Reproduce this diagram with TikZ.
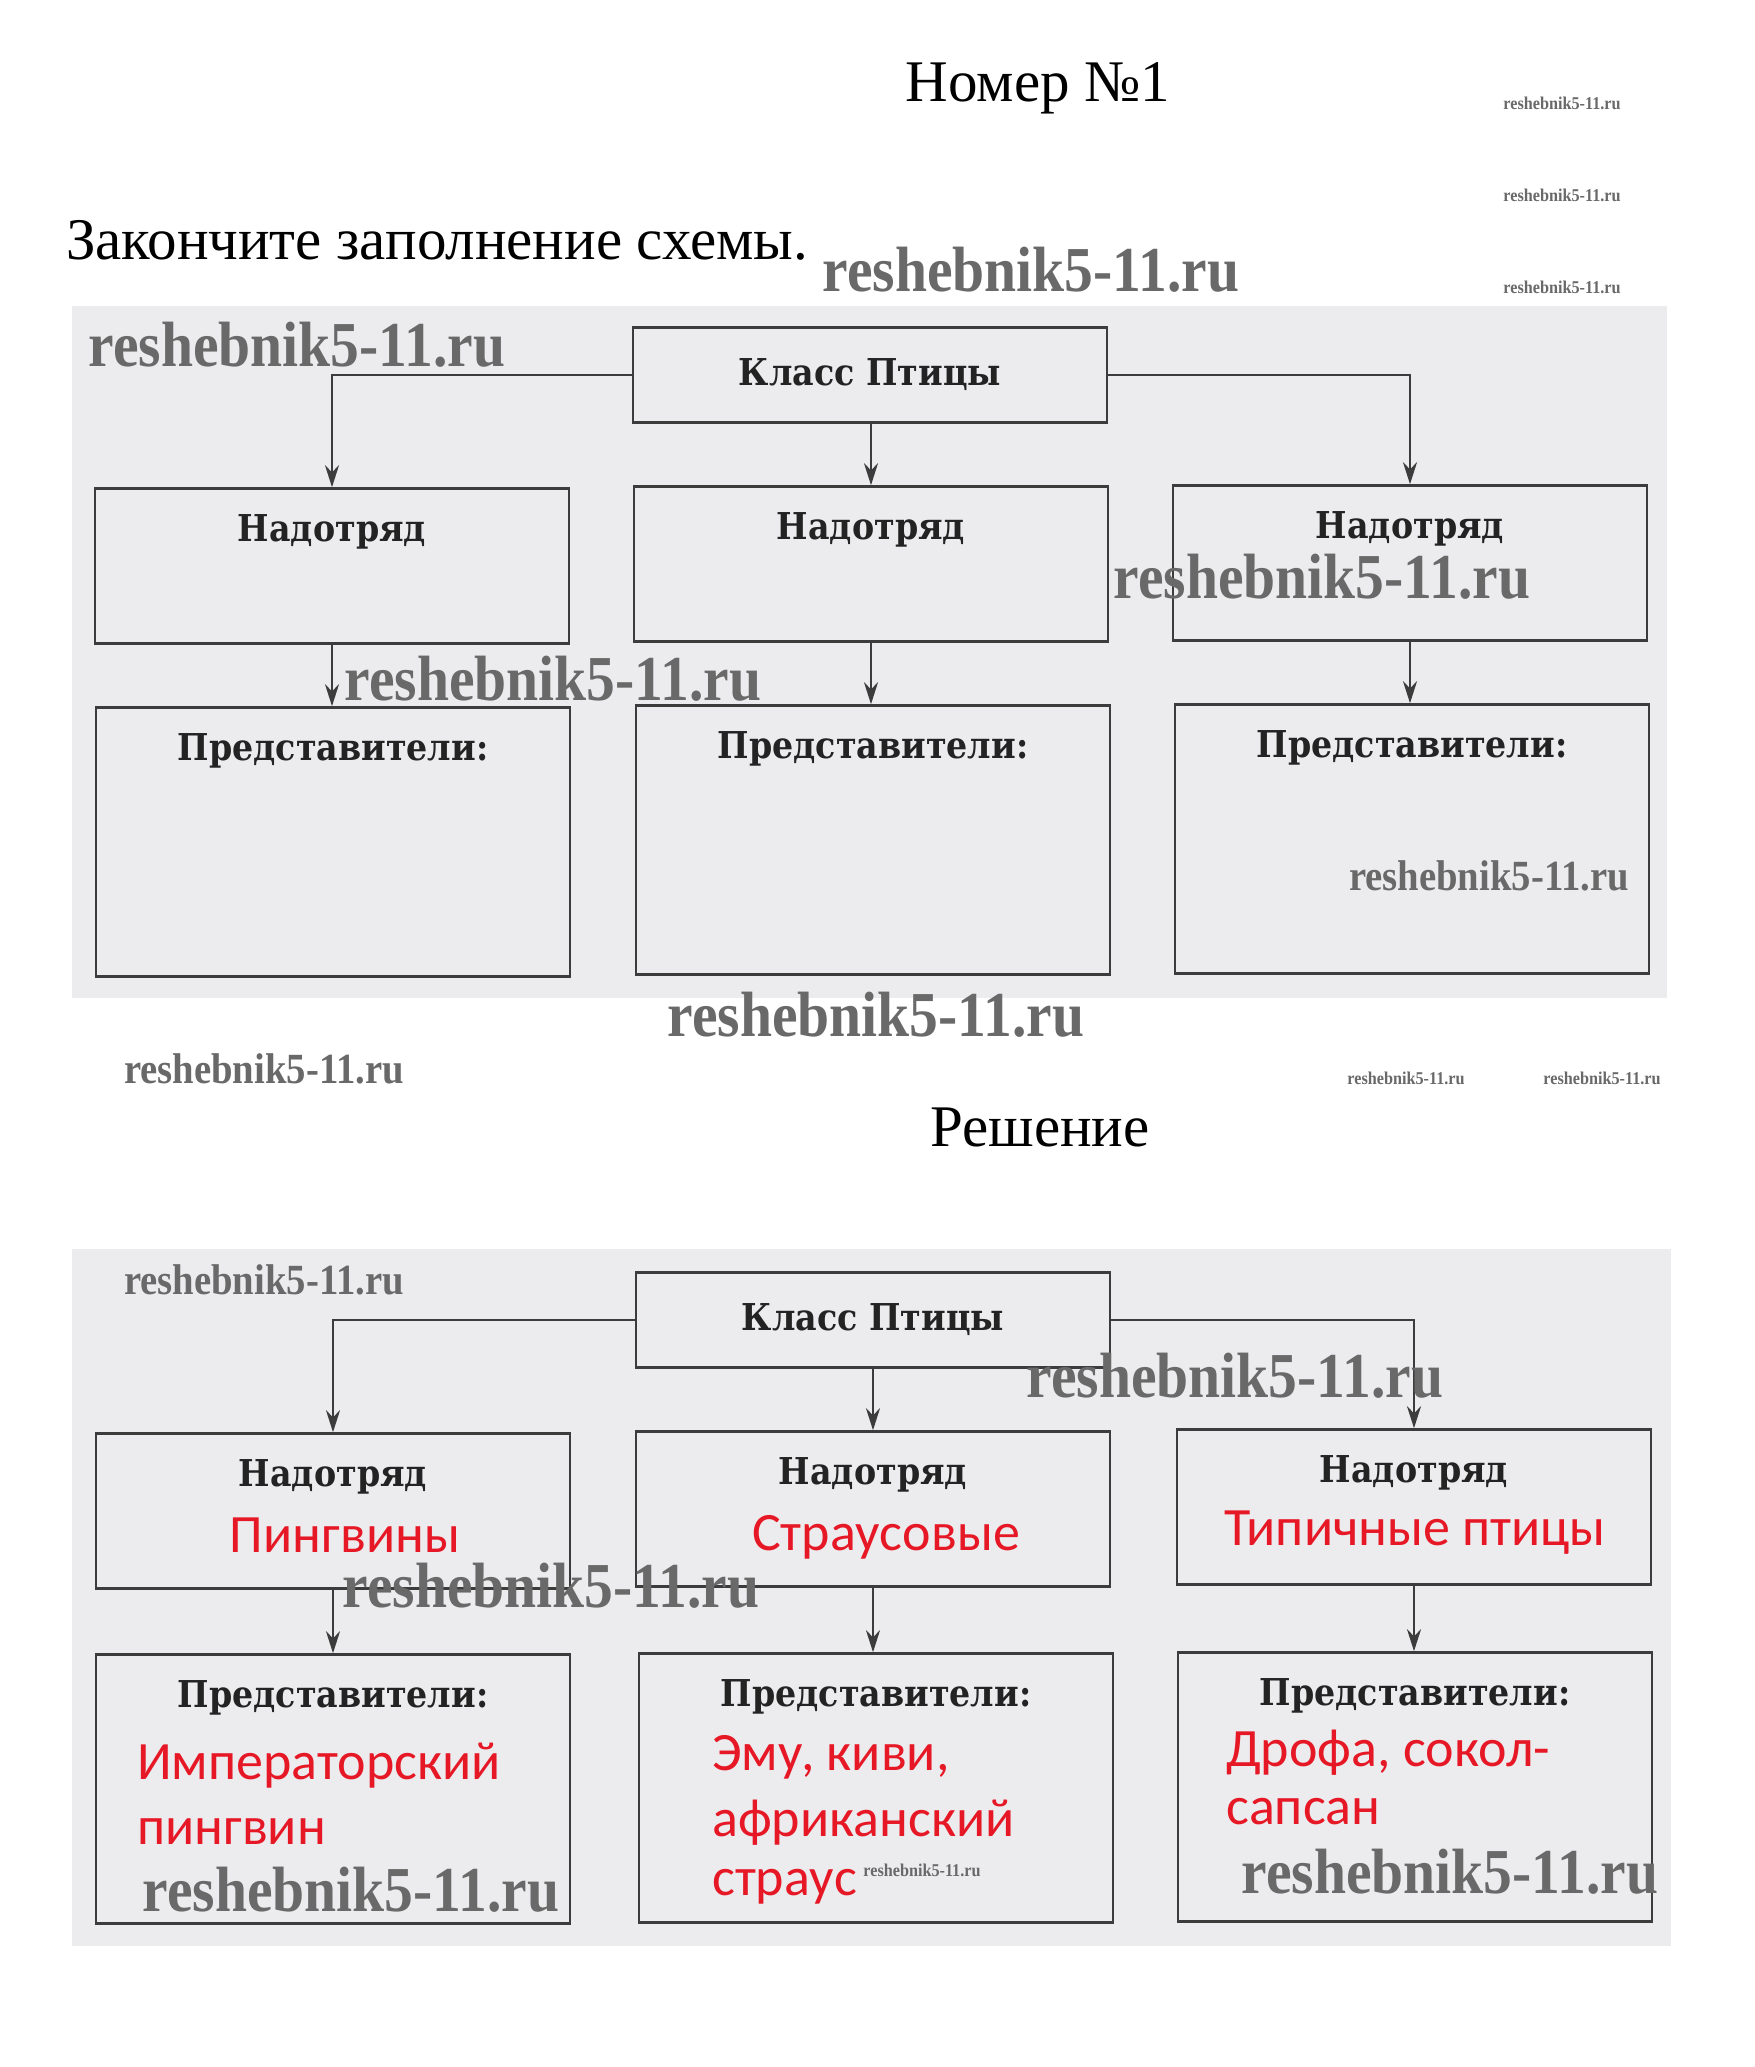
\documentclass[tikz,border=0pt]{standalone}
\usepackage{fontspec}
\setmainfont{Liberation Serif}
\newfontfamily\boxfont{DejaVu Serif}[FakeStretch=0.9]
\newfontfamily\redfont{Carlito}
\newfontfamily\wmfont{Liberation Serif}[FakeStretch=0.9]
\usetikzlibrary{arrows.meta}
\definecolor{panel}{RGB}{236,235,238}
\definecolor{lin}{RGB}{60,60,60}
\definecolor{txt}{RGB}{35,35,35}
\definecolor{ans}{RGB}{230,24,38}
\definecolor{wm}{RGB}{105,105,105}
\tikzset{
  box/.style={draw=lin, line width=2.6pt, rectangle, minimum width=474pt, inner sep=0pt},
  nbox/.style={box, minimum height=155pt},
  pbox/.style={box, minimum height=269pt},
  kbox/.style={box, minimum height=95pt},
  lbl/.style={font=\boxfont\bfseries\fontsize{37}{42}\selectfont, text=txt, inner sep=0pt},
  red/.style={font=\redfont\fontsize{54}{62}\selectfont, text=ans, inner sep=0pt},
  head/.style={font=\fontsize{59}{66}\selectfont, text=black, inner sep=0pt},
  wmbig/.style={font=\wmfont\bfseries\fontsize{64}{70}\selectfont, text=wm, inner sep=0pt},
  wmmid/.style={font=\wmfont\bfseries\fontsize{43}{48}\selectfont, text=wm, inner sep=0pt},
  wmtiny/.style={font=\wmfont\bfseries\fontsize{18}{20}\selectfont, text=wm, inner sep=0pt},
  arr/.style={draw=lin, line width=2.4pt, -{Stealth[length=22pt,width=14pt]}},
}
\begin{document}
\begin{tikzpicture}[x=1pt,y=-1pt]
\useasboundingbox (0,0) rectangle (1754,2067);
\fill[white] (0,0) rectangle (1754,2067);
% panels
\fill[panel] (72,306) rectangle (1667,998);
\fill[panel] (72,1249) rectangle (1671,1946);

% headings
\node[head] (t1) at (1038,88) {Номер №1};
\node[head, anchor=west] (t2) at (66,240) {Закончите заполнение схемы.};
\node[head] (t3) at (1040,1127) {Решение};

% ---------- diagram 1 ----------
\node[kbox] (k1) at (870,375) {};
\node[lbl] (k1t) at (k1) {Класс Птицы};
\node[nbox] (n1) at (332,566) {};
\node[nbox] (n2) at (871,564) {};
\node[nbox] (n3) at (1410,563) {};
\node[pbox] (p1) at (333,842) {};
\node[pbox] (p2) at (873,840) {};
\node[pbox] (p3) at (1412,839) {};
\foreach \b in {n1,n2,n3}{\node[lbl] (\b t) at ([yshift=-45pt]\b.north) {Надотряд};}
\foreach \b in {p1,p2,p3}{\node[lbl] (\b t) at ([yshift=-45pt]\b.north) {Представители:};}
\draw[arr] (k1.west) -- (k1.west -| n1.north) -- (n1.north);
\draw[arr] (k1.south -| n2.north) -- (n2.north);
\draw[arr] (k1.east) -- (k1.east -| n3.north) -- (n3.north);
\draw[arr] (n1.south) -- (n1.south |- p1.north);
\draw[arr] (n2.south) -- (n2.south |- p2.north);
\draw[arr] (n3.south) -- (n3.south |- p3.north);

% ---------- diagram 2 ----------
\node[kbox] (k2) at (873,1320) {};
\node[lbl] (k2t) at (k2) {Класс Птицы};
\node[nbox] (m1) at (333,1511) {};
\node[nbox] (m2) at (873,1509) {};
\node[nbox] (m3) at (1414,1507) {};
\node[pbox] (q1) at (333,1789) {};
\node[pbox] (q2) at (876,1788) {};
\node[pbox] (q3) at (1415,1787) {};
\foreach \b in {m1,m2,m3}{\node[lbl] (\b t) at ([yshift=-45pt]\b.north) {Надотряд};}
\foreach \b in {q1,q2,q3}{\node[lbl] (\b t) at ([yshift=-45pt]\b.north) {Представители:};}
\draw[arr] (k2.west) -- (k2.west -| m1.north) -- (m1.north);
\draw[arr] (k2.south -| m2.north) -- (m2.north);
\draw[arr] (k2.east) -- (k2.east -| m3.north) -- (m3.north);
\draw[arr] (m1.south) -- (m1.south |- q1.north);
\draw[arr] (m2.south) -- (m2.south |- q2.north);
\draw[arr] (m3.south) -- (m3.south |- q3.north);

% answers
\node[red] (a1) at (345,1535) {Пингвины};
\node[red] (a2) at (886,1537) {Страусовые};
\node[red] (a3) at (1415,1533) {Типичные птицы};
\node[red, anchor=west] (b1) at (137,1766) {Императорский};
\node[red, anchor=west] (b2) at (137,1832) {пингвин};
\node[red, anchor=west] (c1) at (712,1757) {Эму, киви,};
\node[red, anchor=west] (c2) at (712,1823) {африканский};
\node[red, anchor=west] (c3) at (712,1887) {страус};
\node[red, anchor=west] (d1) at (1226,1753) {Дрофа, сокол-};
\node[red, anchor=west] (d2) at (1226,1812) {сапсан};

% watermarks
\node[wmtiny] (w1) at (1562,103) {reshebnik5-11.ru};
\node[wmtiny] (w2) at (1562,195) {reshebnik5-11.ru};
\node[wmtiny] (w3) at (1562,287) {reshebnik5-11.ru};
\node[wmbig] (w4) at (1031,270) {reshebnik5-11.ru};
\node[wmbig] (w5) at (297,345) {reshebnik5-11.ru};
\node[wmbig] (w6) at (1322,577) {reshebnik5-11.ru};
\node[wmbig] (w7) at (553,679) {reshebnik5-11.ru};
\node[wmmid] (w8) at (1489,876) {reshebnik5-11.ru};
\node[wmbig] (w9) at (876,1015) {reshebnik5-11.ru};
\node[wmmid] (w10) at (264,1069) {reshebnik5-11.ru};
\node[wmtiny] (w11) at (1406,1078) {reshebnik5-11.ru};
\node[wmtiny] (w12) at (1602,1078) {reshebnik5-11.ru};
\node[wmmid] (w13) at (264,1280) {reshebnik5-11.ru};
\node[wmbig] (w14) at (1235,1376) {reshebnik5-11.ru};
\node[wmbig] (w15) at (551,1586) {reshebnik5-11.ru};
\node[wmbig] (w16) at (351,1890) {reshebnik5-11.ru};
\node[wmtiny] (w17) at (922,1870) {reshebnik5-11.ru};
\node[wmbig] (w18) at (1450,1872) {reshebnik5-11.ru};
\end{tikzpicture}
\end{document}
